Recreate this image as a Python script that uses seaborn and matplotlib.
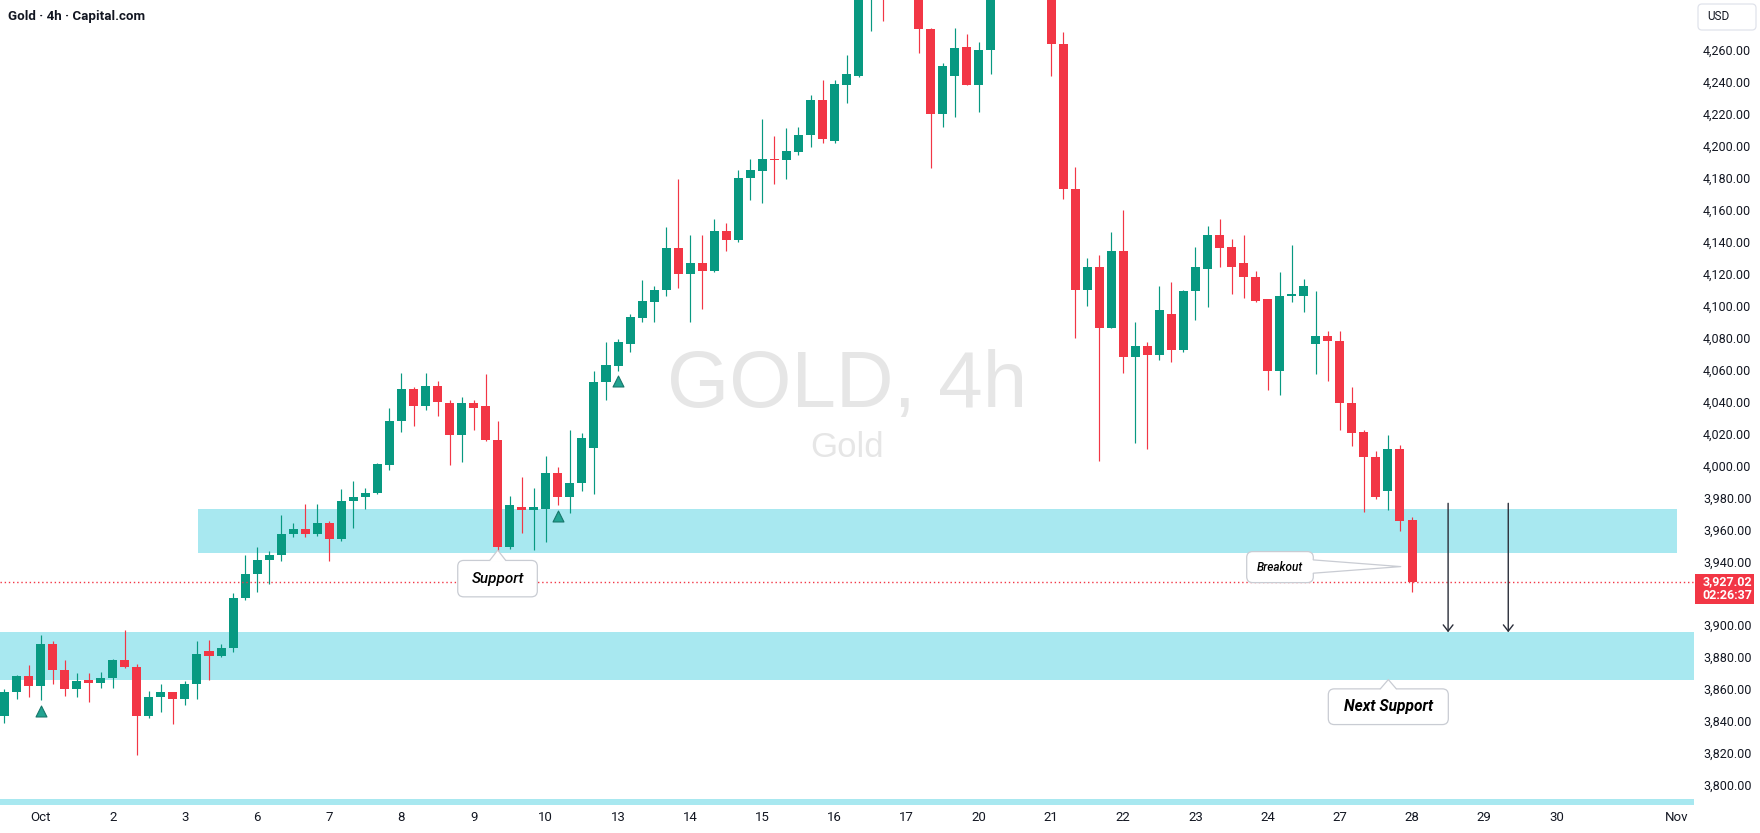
import matplotlib
matplotlib.use("Agg")
import numpy as np
import pandas as pd
import seaborn as sns
import matplotlib.pyplot as plt
from matplotlib.patches import FancyBboxPatch, Polygon, Rectangle
from matplotlib.lines import Line2D
from matplotlib.transforms import IdentityTransform

# ---------------- data (4h candles, Gold, Capital.com) ----------------
opens = [3843, 3858, 3868, 3862, 3888, 3872, 3860, 3866, 3864, 3867,
         3878, 3874, 3843, 3855, 3858, 3854, 3863, 3884, 3881, 3886,
         3917, 3932, 3941, 3944, 3957, 3960, 3957, 3964, 3954, 3978,
         3980, 3983, 4000, 4028, 4048, 4037, 4050, 4039, 4019, 4039,
         4037, 4016, 3949, 3974, 3972, 3973, 3995, 3980, 3989, 4011,
         4052, 4062, 4076, 4092, 4102, 4110, 4136, 4120, 4127, 4122,
         4147, 4141, 4180, 4184, 4192, 4191, 4196, 4207, 4229, 4203,
         4238, 4244, 4305, 4325, 4300, 4340, 4320, 4273, 4220, 4244,
         4262, 4238, 4260, 4310, 4345, 4360, 4350, 4330, 4264, 4173,
         4110, 4124, 4086, 4134, 4068, 4075, 4069, 4095, 4072, 4109,
         4123, 4144, 4137, 4127, 4118, 4104, 4059, 4106, 4106, 4076,
         4081, 4078, 4039, 4021, 4005, 3984, 4010, 3966]
highs = [3860, 3869, 3875, 3894, 3890, 3878, 3870, 3870, 3871, 3879,
         3897, 3876, 3859, 3863, 3858, 3865, 3890, 3891, 3888, 3920,
         3944, 3949, 3946.5, 3969, 3964, 3976, 3976, 3965, 3985, 3990,
         3986, 4001.5, 4036, 4058, 4049, 4058, 4053, 4041, 4043, 4041,
         4057, 4028, 3981, 3993, 3986, 4006, 3999, 4022, 4020, 4059,
         4077, 4079, 4095, 4116, 4112, 4149, 4179, 4144, 4144, 4154,
         4152, 4185, 4192, 4217, 4206, 4211, 4212, 4232, 4241, 4241,
         4257, 4318, 4345, 4335, 4360, 4380, 4330, 4274, 4252, 4274,
         4270, 4265, 4318, 4355, 4375, 4381, 4360, 4335, 4271, 4187,
         4130, 4132, 4146, 4160, 4090, 4077, 4112, 4115, 4110, 4137,
         4150, 4154, 4142, 4144, 4122, 4104, 4121, 4138, 4117, 4109,
         4084, 4084, 4049, 4022, 4009, 4019, 4013, 3968]
lows = [3839, 3854, 3855, 3853, 3863, 3856, 3855, 3852, 3861, 3861,
        3873, 3819, 3842, 3846, 3838, 3850, 3854, 3866, 3880, 3883,
        3916, 3921, 3926, 3940, 3955, 3955, 3956, 3940, 3953, 3961,
        3973, 3982, 3997, 4021, 4025, 4035, 4031, 4000, 4002, 4022,
        4015, 3944, 3948, 3958, 3947, 3952, 3975, 3970, 3984, 3982,
        4041, 4059, 4071, 4090, 4090, 4106, 4111, 4090, 4098, 4121,
        4134, 4140, 4166, 4164, 4176, 4179, 4194, 4199, 4202, 4202,
        4227, 4243, 4272, 4278, 4295, 4300, 4258, 4186, 4212, 4218,
        4238, 4221, 4245, 4300, 4335, 4340, 4320, 4244, 4167, 4080,
        4100, 4003, 4086, 4058, 4014, 4010, 4066, 4065, 4071, 4091,
        4099, 4124, 4107, 4105, 4102, 4047, 4044, 4102, 4096, 4057,
        4053, 4022, 4012, 3971, 3979, 3972, 3959, 3921]
closes = [3858, 3868, 3862, 3888, 3872, 3860, 3865, 3864, 3867, 3878,
          3874, 3843, 3855, 3858, 3854, 3863, 3882, 3881, 3886, 3917,
          3932, 3941, 3944, 3957, 3960, 3957, 3964, 3954, 3978, 3980,
          3983, 4001, 4028, 4048, 4037, 4050, 4040, 4019, 4039, 4036,
          4016, 3949, 3975, 3972, 3974, 3995, 3980, 3989, 4017, 4052,
          4063, 4077, 4093, 4103, 4110, 4136, 4120, 4127, 4122, 4147,
          4141, 4180, 4185, 4192, 4191, 4197, 4207, 4229, 4204, 4239,
          4245, 4305, 4325, 4300, 4340, 4320, 4273, 4220, 4250, 4261,
          4238, 4260, 4310, 4345, 4360, 4350, 4330, 4264, 4173, 4110,
          4124, 4086, 4134, 4068, 4075, 4069, 4097, 4072, 4109, 4124,
          4144, 4136, 4124, 4118, 4103, 4059, 4106, 4107, 4112, 4081,
          4078, 4039, 4020, 4005, 3980, 4010, 3965, 3927.02]

date_tick_idx = [3, 9, 15, 21, 27, 33, 39, 45, 51, 57, 63, 69, 75, 81,
                 87, 93, 99, 105, 111, 117, 123, 129, 139]
date_tick_labels = ["Oct", "2", "3", "6", "7", "8", "9", "10", "13", "14",
                    "15", "16", "17", "20", "21", "22", "23", "24", "27",
                    "28", "29", "30", "Nov"]
price_ticks = [3800, 3820, 3840, 3860, 3880, 3900, 3940, 3960, 3980, 4000,
               4020, 4040, 4060, 4080, 4100, 4120, 4140, 4160, 4180, 4200,
               4220, 4240, 4260]

zone_lows = [3945, 3866, 3700]
zone_highs = [3973, 3896, 3791]
zone_starts = [16.1, -5, -5]
zone_ends = [139.0, 145, 145]

signal_idx = [3, 46, 51]
signal_price = [3846.5, 3968.5, 4053.0]

arrow_x = [120, 125]
arrow_from = [3976.3, 3976.3]
arrow_to = [3895.6, 3895.6]

support_tip = (41, 3947.0)
breakout_tip = (116.06, 3936.7)
next_support_tip = (115.03, 3866.0)

last_price = closes[-1]
countdown = "02:26:37"

# ---------------- styling ----------------
sns.set_theme(style="white")
plt.rcParams['font.family'] = ['Roboto', 'DejaVu Sans']
TXT = '#131722'
UP, DN = '#089981', '#F23645'
ZONE = '#a8e8f0'
BORDER = '#c9ccd3'

W, H, DPI = 1760, 833, 100
fig = plt.figure(figsize=(W / DPI, H / DPI), dpi=DPI)
fig.patch.set_facecolor('white')
ax = fig.add_axes([0, 28 / H, 1694 / W, 805 / H])
ax.set_facecolor('white')
ax.set_xlim(-0.374, 140.44)
ax.set_ylim(3787.5, 4291.3)

df = pd.DataFrame({'x': np.arange(len(opens)), 'open': opens, 'high': highs,
                   'low': lows, 'close': closes})
df['color'] = np.where(df['close'] >= df['open'], UP, DN)
df['bottom'] = df[['open', 'close']].min(axis=1)
df['height'] = (df['close'] - df['open']).abs().clip(lower=0.8)

# zones
for lo, hi, s, e in zip(zone_lows, zone_highs, zone_starts, zone_ends):
    ax.fill_between([s, e], lo, hi, color=ZONE, lw=0, zorder=0.5)

# watermark
ax.text(0.5, 0.494, 'GOLD, 4h', transform=ax.transAxes, ha='center', va='baseline',
        fontsize=57.6, color='#e6e6e6', family='Liberation Sans', zorder=0.2)
ax.text(0.5, 0.4327, 'Gold', transform=ax.transAxes, ha='center', va='baseline',
        fontsize=25, color='#e6e6e6', family='Liberation Sans', zorder=0.2)

# candles
ax.vlines(df['x'], df['low'], df['high'], colors=df['color'], lw=0.85, zorder=2)
ax.bar(df['x'], df['height'], bottom=df['bottom'], width=0.75,
       color=df['color'], linewidth=0, zorder=3)

# signal markers
sns.scatterplot(x=signal_idx, y=signal_price, marker='^', s=62, color='#22a391',
                edgecolor='#17776b', linewidth=0.8, ax=ax, zorder=4, legend=False)

# current price line
ax.axhline(last_price, color=DN, lw=1.0, ls=(0, (1, 2)), zorder=5)

# arrows
for xa, y0, y1 in zip(arrow_x, arrow_from, arrow_to):
    ax.annotate('', xy=(xa, y1), xytext=(xa, y0),
                arrowprops=dict(arrowstyle='->,head_length=0.45,head_width=0.35',
                                color='#2a2e39', lw=1.0, shrinkA=0, shrinkB=0,
                                mutation_scale=10), zorder=6)

# axes ticks
ax.yaxis.tick_right()
ax.set_yticks(price_ticks)
ax.set_yticklabels([f"{v:,.2f}" for v in price_ticks])
ax.set_xticks(date_tick_idx)
ax.set_xticklabels(date_tick_labels)
ax.tick_params(axis='y', length=0, pad=6.5, labelsize=9, labelcolor=TXT)
ax.tick_params(axis='x', length=0, pad=4, labelsize=9.5, labelcolor=TXT)
for s in ax.spines.values():
    s.set_visible(False)
ax.grid(False)

# ---------------- callouts (display coords) ----------------
ID = IdentityTransform()


def tip_px(pt):
    return ax.transData.transform(pt)


def box(x0, y0, x1, y1, z=10):
    p = FancyBboxPatch((x0, y0), x1 - x0, y1 - y0,
                       boxstyle='round,pad=0,rounding_size=6', transform=ID,
                       fc='white', ec=BORDER, lw=0.9, zorder=z)
    fig.add_artist(p)


def notch(base_a, base_b, tip, inward, z=11):
    (ax_, ay_), (bx_, by_) = base_a, base_b
    dx, dy = inward
    poly = Polygon([(ax_ + dx, ay_ + dy), base_a, tip, base_b, (bx_ + dx, by_ + dy)],
                   closed=True, transform=ID, fc='white', ec='none', zorder=z)
    fig.add_artist(poly)
    fig.add_artist(Line2D([ax_, tip[0], bx_], [ay_, tip[1], by_], transform=ID,
                          color=BORDER, lw=0.9, zorder=z + 0.1))


# Support
tx, ty = tip_px(support_tip)
top = ty - 10.3
box(tx - 40, ty - 46.7, tx + 39.6, top)
notch((tx - 8, top), (tx + 8, top), (tx, ty), (0, -1.5))
fig.text(tx, (top + ty - 46.7) / 2, 'Support', transform=ID, ha='center', va='center',
         fontsize=11, style='italic', weight='medium', color='#000000', zorder=12)

# Breakout
tx, ty = tip_px(breakout_tip)
right = tx - 87.4
box(tx - 154, ty - 16, right, ty + 15)
notch((right, ty + 6.7), (right, ty - 6.6), (tx, ty), (-1.5, 0))
fig.text((tx - 154 + right) / 2, ty - 0.5, 'Breakout', transform=ID, ha='center',
         va='center', fontsize=8.5, style='italic', weight='medium', color='#000000',
         zorder=12)

# Next Support
tx, ty = tip_px(next_support_tip)
top = ty - 9.3
box(tx - 60, ty - 45, tx + 60, top)
notch((tx - 8, top), (tx + 8, top), (tx, ty), (0, -1.5))
fig.text(tx, (top + ty - 45) / 2, 'Next Support', transform=ID, ha='center',
         va='center', fontsize=11.2, style='italic', weight='bold', color='#000000',
         zorder=12)

# current price label on axis
_, py = tip_px((0, last_price))
fig.add_artist(Rectangle((1695, py - 22.4), 59, 30.7, transform=ID, fc=DN, ec='none',
                         zorder=10))
fig.text(1702.5, py, f"{last_price:,.2f}", transform=ID, ha='left', va='center',
         fontsize=9, color='white', weight='bold', zorder=12)
fig.text(1702.5, py - 13.8, countdown, transform=ID, ha='left', va='center',
         fontsize=9, color='white', weight='bold', zorder=12)

# USD box
fig.add_artist(FancyBboxPatch((1698, H - 30), 58, 26, boxstyle='round,pad=0,rounding_size=4',
                              transform=ID, fc='white', ec='#e0e3eb', lw=0.9, zorder=10))
fig.text(1707, H - 17, 'USD', transform=ID, ha='left', va='center', fontsize=8.5,
         color=TXT, zorder=12)

# title
fig.text(8, H - 16.5, 'Gold · 4h · Capital.com', transform=ID, ha='left', va='center',
         fontsize=9.6, weight='semibold', color=TXT, zorder=12)

fig.savefig('out.png', dpi=DPI, facecolor='white')
